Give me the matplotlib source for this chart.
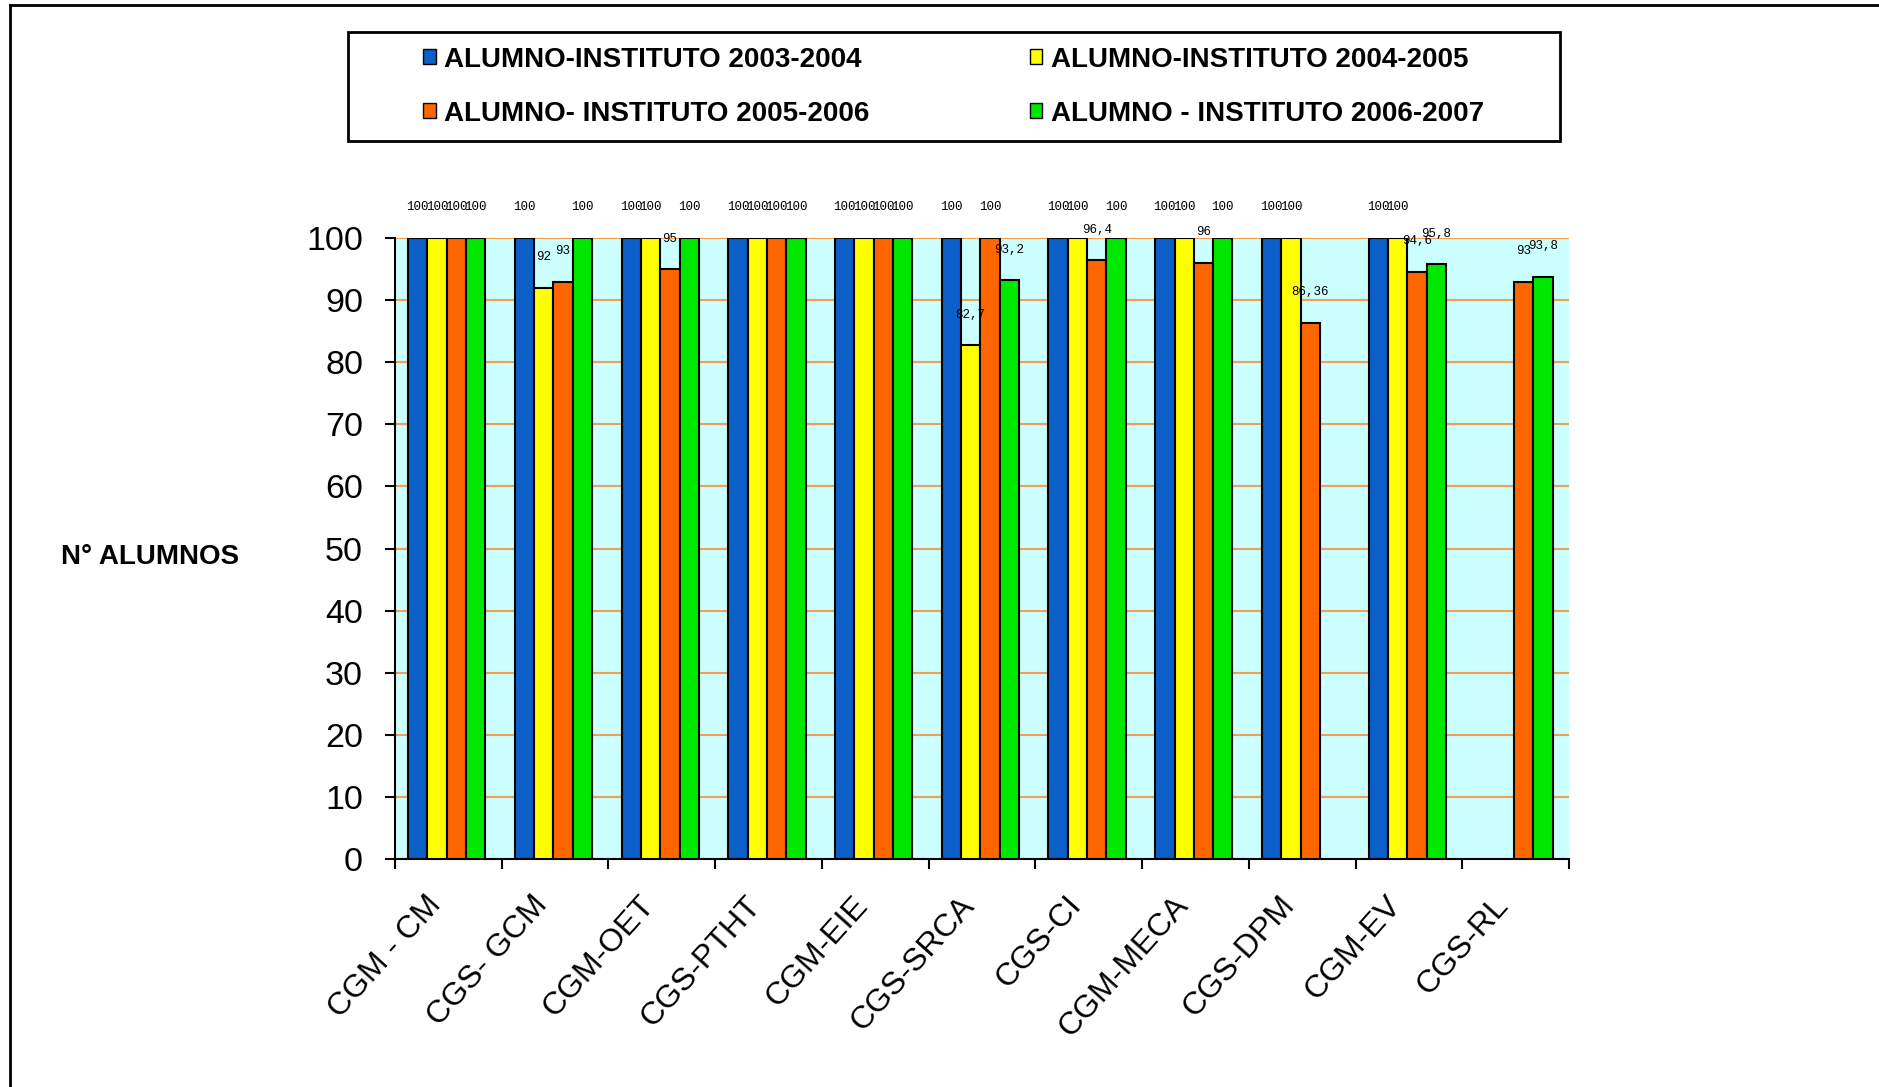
import numpy as np
import matplotlib
matplotlib.use("Agg")
from matplotlib import pyplot as plt
from matplotlib import transforms
from matplotlib.patches import Patch, Rectangle
from matplotlib.lines import Line2D

plt.rcParams["font.family"] = ["Liberation Sans", "DejaVu Sans"]

categories = ["CGM - CM", "CGS- GCM", "CGM-OET", "CGS-PTHT", "CGM-EIE", "CGS-SRCA",
              "CGS-CI", "CGM-MECA", "CGS-DPM", "CGM-EV", "CGS-RL"]

series_names = ["ALUMNO-INSTITUTO 2003-2004", "ALUMNO-INSTITUTO 2004-2005",
                "ALUMNO- INSTITUTO 2005-2006", "ALUMNO - INSTITUTO 2006-2007"]

nan = np.nan
y_2003 = [100, 100, 100, 100, 100, 100, 100, 100, 100, 100, nan]
y_2004 = [100, 92, 100, 100, 100, 82.7, 100, 100, 100, 100, nan]
y_2005 = [100, 93, 95, 100, 100, 100, 96.4, 96, 86.36, 94.6, 93]
y_2006 = [100, 100, 100, 100, 100, 93.2, 100, 100, nan, 95.8, 93.8]

colors = ["#0A5FC8", "#FFFF00", "#FF6600", "#00E800"]

yticks = [0, 10, 20, 30, 40, 50, 60, 70, 80, 90, 100]


def fmt(v):
    s = "%g" % v
    return s.replace(".", ",")


def main():
    fig = plt.figure(figsize=(18.79, 10.87), dpi=100)
    ax = fig.add_axes([0.2102, 0.2098, 0.835 - 0.2102, 0.781 - 0.2098])
    ax.set_facecolor("#CCFFFF")

    x = np.arange(len(categories))
    w = 0.181
    all_series = [y_2003, y_2004, y_2005, y_2006]
    for i, vals in enumerate(all_series):
        pos = x + (i - 1.5) * w - 0.015
        ax.bar(pos, vals, width=w, color=colors[i], edgecolor="black",
               linewidth=1.5, zorder=3)
        for px, v in zip(pos, vals):
            if np.isnan(v):
                continue
            ax.annotate(fmt(v), (px, v), xytext=(0, 22), textcoords="offset points",
                        ha="center", va="center", fontsize=9,
                        family="Liberation Mono", zorder=4)

    ax.set_xlim(-0.5, len(categories) - 0.5)
    ax.set_ylim(0, 100)
    ax.set_yticks(yticks)
    ax.yaxis.grid(True, color="#F0A050", linewidth=1.5, zorder=1)
    ax.set_axisbelow(True)
    for side in ["top", "right"]:
        ax.spines[side].set_visible(False)
    ax.spines["left"].set_linewidth(1.5)
    ax.spines["bottom"].set_linewidth(1.5)
    ax.tick_params(axis="y", direction="out", length=7, width=1.5, pad=16,
                   labelsize=24.5)

    ax.set_xticks(x)
    ax.set_xticks(np.arange(len(categories) + 1) - 0.5, minor=True)
    ax.tick_params(axis="x", which="major", length=0, pad=30)
    ax.tick_params(axis="x", which="minor", direction="out", length=7, width=1.5)
    ax.set_xticklabels(categories, rotation=48, ha="right", va="center",
                       rotation_mode="anchor", fontsize=23)
    shift = transforms.ScaledTranslation(-9 / 72, 0, fig.dpi_scale_trans)
    for lab in ax.get_xticklabels():
        lab.set_transform(lab.get_transform() + shift)

    fig.text(0.08, 0.4876, "N° ALUMNOS", ha="center", va="center",
             fontsize=20, fontweight="bold")

    # legend box
    fig.add_artist(Rectangle((0.185, 0.870), 0.645, 0.1006, transform=fig.transFigure,
                             facecolor="white", edgecolor="black", linewidth=2))
    handles = [Patch(facecolor=c, edgecolor="black", linewidth=1) for c in colors]
    order = [0, 2, 1, 3]
    fig.legend([handles[k] for k in order], [series_names[k] for k in order],
               loc="center", bbox_to_anchor=(0.215, 0.870, 0.585, 0.1006),
               mode="expand", ncol=2, frameon=False, prop={"size": 20, "weight": "bold"},
               handlelength=0.45, handleheight=0.45, handletextpad=0.3,
               labelspacing=1.0, borderpad=0.2)

    # outer border (left and top)
    fig.add_artist(Line2D([10 / 1879, 10 / 1879], [0, 1 - 5 / 1087],
                          transform=fig.transFigure, color="black", linewidth=2))
    fig.add_artist(Line2D([10 / 1879, 1], [1 - 5 / 1087, 1 - 5 / 1087],
                          transform=fig.transFigure, color="black", linewidth=2))

    fig.savefig("out.png", dpi=100)


if __name__ == "__main__":
    main()
